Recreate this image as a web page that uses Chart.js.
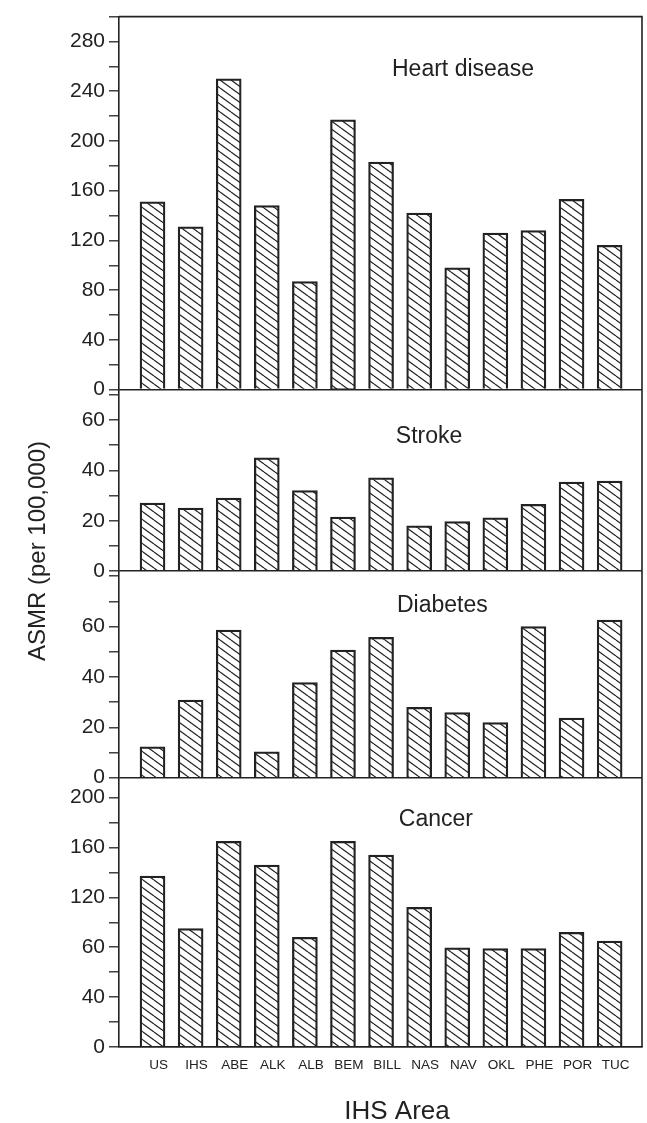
<!DOCTYPE html>
<html>
<head>
<meta charset="utf-8">
<script src="https://cdn.jsdelivr.net/npm/chart.js@4.4.1/dist/chart.umd.min.js"></script>
<style>
    html, body { margin: 0; padding: 0; background: #fff; }
</style>
</head>
<body>
<canvas id="asmrChart" width="647" height="1123"></canvas>
<script>
// Áreas del IHS (eje x)
const areas = ['US', 'IHS', 'ABE', 'ALK', 'ALB', 'BEM', 'BILL', 'NAS', 'NAV', 'OKL', 'PHE', 'POR', 'TUC'];

// ASMR por 100,000
const heartDisease = [151, 131, 250, 148, 87, 217, 183, 142, 98, 126, 128, 153, 116];
const stroke = [27, 25, 29, 45, 32, 21.5, 37, 18, 19.7, 21.2, 26.5, 35.3, 35.7];
const diabetes = [12.3, 30.8, 58.6, 10.3, 37.8, 50.7, 55.7, 27.9, 25.9, 21.9, 60, 23.7, 62.6];
const cancer = [137, 95, 165, 146, 88, 165, 154, 112, 79.5, 79, 79, 92, 85];

// Etiquetas de los ejes tal como aparecen impresas
const heartTicks = ['0', '40', '80', '120', '160', '200', '240', '280'];
const strokeTicks = ['0', '20', '40', '60'];
const diabetesTicks = ['0', '20', '40', '60'];
const cancerTicks = ['0', '40', '60', '120', '160', '200'];

const INK = '#222';
const SANS = "'Liberation Sans', Arial, Helvetica, sans-serif";

// Relleno rayado de las barras
function hatchPattern() {
    const c = document.createElement('canvas');
    const w = 11, h = 8;
    c.width = w;
    c.height = h;
    const g = c.getContext('2d');
    g.strokeStyle = INK;
    g.lineWidth = 1.2;
    [-h, 0, h].forEach(dy => {
        g.beginPath();
        g.moveTo(0, dy);
        g.lineTo(w, dy + h);
        g.stroke();
    });
    return g.createPattern(c, 'repeat');
}
const hatch = hatchPattern();

function barSet(values, axis) {
    return {
        data: values.map((v, i) => ({ x: i, y: v })),
        yAxisID: axis,
        grouped: false,
        backgroundColor: hatch,
        borderColor: INK,
        borderWidth: 1.6,
        barThickness: 25
    };
}

function panelAxis(max, step, every, labels, weight) {
    return {
        type: 'linear',
        position: 'left',
        stack: 'asmr',
        stackWeight: weight,
        min: 0,
        max: max,
        afterFit: scale => { scale.width = 119; },
        border: { display: true, color: INK, width: 1.6 },
        grid: {
            drawOnChartArea: true,
            color: c => (c.tick && c.tick.value === 0) ? INK : 'rgba(0,0,0,0)',
            lineWidth: 1.6,
            tickColor: INK,
            tickLength: 10,
            tickWidth: 1.3
        },
        ticks: {
            stepSize: step,
            maxTicksLimit: 100,
            autoSkip: false,
            includeBounds: false,
            padding: 4,
            color: INK,
            font: { family: SANS, size: 21 },
            callback: v => (v % every === 0 && labels[v / every] !== undefined) ? labels[v / every] : ''
        }
    };
}

// Títulos de cada panel (posición en unidades de los ejes)
const panelTitles = [
    { text: 'Heart disease', axis: 'yHeart', x: 8.15, y: 252 },
    { text: 'Stroke', axis: 'yStroke', x: 7.26, y: 51 },
    { text: 'Diabetes', axis: 'yDiabetes', x: 7.61, y: 65.6 },
    { text: 'Cancer', axis: 'yCancer', x: 7.44, y: 177.6 }
];

const textPlugin = {
    id: 'textPlugin',
    afterDraw(chart) {
        const { ctx, chartArea: a } = chart;
        const xs = chart.scales.x;
        ctx.save();
        ctx.fillStyle = INK;
        ctx.strokeStyle = INK;
        // marco superior y derecho
        ctx.lineWidth = 1.6;
        ctx.beginPath();
        ctx.moveTo(a.left, a.top);
        ctx.lineTo(a.right, a.top);
        ctx.lineTo(a.right, a.bottom);
        ctx.stroke();

        ctx.font = '23px ' + SANS;
        ctx.textAlign = 'center';
        ctx.textBaseline = 'alphabetic';
        panelTitles.forEach(t => {
            ctx.fillText(t.text, xs.getPixelForValue(t.x), chart.scales[t.axis].getPixelForValue(t.y));
        });

        // títulos de los ejes
        ctx.font = '26px ' + SANS;
        ctx.fillText('IHS Area', 397, 1119);
        ctx.translate(45, 551);
        ctx.rotate(-Math.PI / 2);
        ctx.font = '24px ' + SANS;
        ctx.fillText('ASMR (per 100,000)', 0, 0);
        ctx.restore();
    }
};

const ctx = document.getElementById('asmrChart').getContext('2d');
new Chart(ctx, {
    type: 'bar',
    data: {
        datasets: [
            barSet(heartDisease, 'yHeart'),
            barSet(stroke, 'yStroke'),
            barSet(diabetes, 'yDiabetes'),
            barSet(cancer, 'yCancer')
        ]
    },
    options: {
        responsive: false,
        animation: false,
        layout: { padding: { top: 14, right: 5, left: 0, bottom: 0 } },
        plugins: { legend: { display: false }, tooltip: { enabled: false } },
        scales: {
            x: {
                type: 'linear',
                offset: false,
                min: -0.88,
                max: 12.85,
                afterFit: scale => { scale.height = 76; },
                border: { display: true, color: INK, width: 1.6 },
                grid: { display: false, drawTicks: false, offset: false },
                ticks: {
                    stepSize: 1,
                    maxTicksLimit: 100,
                    autoSkip: false,
                    includeBounds: false,
                    maxRotation: 0,
                    padding: 10,
                    labelOffset: 6,
                    color: INK,
                    font: { family: SANS, size: 13.5 },
                    callback: v => Number.isInteger(v) && areas[v] !== undefined ? areas[v] : ''
                }
            },
            yCancer: panelAxis(216, 20, 40, cancerTicks, 270),
            yDiabetes: panelAxis(82, 10, 20, diabetesTicks, 207),
            yStroke: panelAxis(72, 10, 20, strokeTicks, 182),
            yHeart: panelAxis(300, 20, 40, heartTicks, 374)
        }
    },
    plugins: [textPlugin]
});
</script>
</body>
</html>
